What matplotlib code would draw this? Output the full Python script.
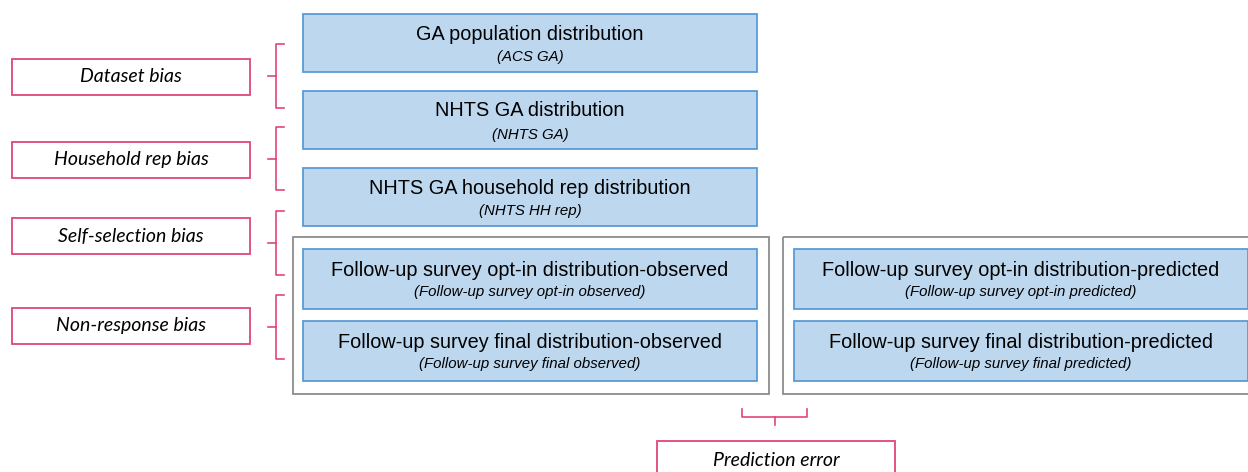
import matplotlib
matplotlib.use("Agg")
import matplotlib.pyplot as plt
from matplotlib.patches import Rectangle

# ---- content ----
stack_titles = ["GA population distribution", "NHTS GA distribution",
                "NHTS GA household rep distribution"]
stack_subs = ["(ACS GA)", "(NHTS GA)", "(NHTS HH rep)"]
obs_titles = ["Follow-up survey opt-in distribution-observed",
              "Follow-up survey final distribution-observed"]
obs_subs = ["(Follow-up survey opt-in observed)", "(Follow-up survey final observed)"]
pred_titles = ["Follow-up survey opt-in distribution-predicted",
               "Follow-up survey final distribution-predicted"]
pred_subs = ["(Follow-up survey opt-in predicted)", "(Follow-up survey final predicted)"]
bias_labels = ["Dataset bias", "Household rep bias", "Self-selection bias", "Non-response bias"]
error_label = "Prediction error"

# ---- style ----
W, H = 1248, 472
BLUE_FILL = "#BDD7EE"
BLUE_EDGE = "#5B9BD5"
PINK = "#E0457B"
GREY = "#8C8C8C"
MAIN_FONT = "Liberation Sans"
LABEL_FONT = "Lato"

fig = plt.figure(figsize=(W / 100, H / 100), dpi=100)
ax = fig.add_axes([0, 0, 1, 1])
ax.set_xlim(0, W)
ax.set_ylim(H, 0)
ax.axis("off")


def blue_box(x0, y0, w, h, title, sub, tdy=20, sdy=43.5):
    ax.add_patch(Rectangle((x0, y0), w, h, facecolor=BLUE_FILL, edgecolor=BLUE_EDGE,
                           lw=1.3, clip_on=False))
    cx = x0 + 227
    ax.text(cx, y0 + tdy, title, ha="center", va="center", fontsize=14.3,
            family=MAIN_FONT, color="black")
    ax.text(cx, y0 + sdy, sub, ha="center", va="center", fontsize=10.8,
            family=MAIN_FONT, style="italic", color="black")


def pink_box(x0, y0, w, h, text):
    ax.add_patch(Rectangle((x0, y0), w, h, facecolor="white", edgecolor=PINK,
                           lw=1.3, clip_on=False))
    ax.text(x0 + w / 2, y0 + h / 2, text, ha="center", va="center", fontsize=14,
            family=LABEL_FONT, style="italic", color="black")


def left_brace(x, top, bot):
    mid = (top + bot) / 2
    ax.plot([x + 8, x, x, x + 8], [top, top, bot, bot], color=PINK, lw=1.2,
            solid_joinstyle="round")
    ax.plot([x - 8, x], [mid, mid], color=PINK, lw=1.2)


# stacked top boxes
stack_y = [14, 91, 168]
for y, t, s in zip(stack_y, stack_titles, stack_subs):
    blue_box(303, y, 454, 58, t, s)

# grey group boxes
ax.add_patch(Rectangle((293, 237), 476, 157, facecolor="none", edgecolor=GREY, lw=1.3))
ax.add_patch(Rectangle((783, 237), 476, 157, facecolor="none", edgecolor=GREY, lw=1.3,
                       clip_on=True))

pair_y = [249, 321]
for y, t, s in zip(pair_y, obs_titles, obs_subs):
    blue_box(303, y, 454, 60, t, s, tdy=21.5, sdy=43)
for y, t, s in zip(pair_y, pred_titles, pred_subs):
    blue_box(794, y, 454, 60, t, s, tdy=21.5, sdy=43)

# bias labels and braces
label_y = [59, 142, 218, 308]
brace_span = [(44, 108), (127, 190), (211, 275), (295, 359)]
for ly, lab, (bt, bb) in zip(label_y, bias_labels, brace_span):
    pink_box(12, ly, 238, 36, lab)
    left_brace(276, bt, bb)

# prediction error brace (horizontal)
ax.plot([742, 742, 807, 807], [409, 417, 417, 409], color=PINK, lw=1.2)
ax.plot([774.5, 774.5], [417, 425], color=PINK, lw=1.2)
pink_box(657, 441, 238, 40, error_label)

fig.savefig("out.png", dpi=100)
